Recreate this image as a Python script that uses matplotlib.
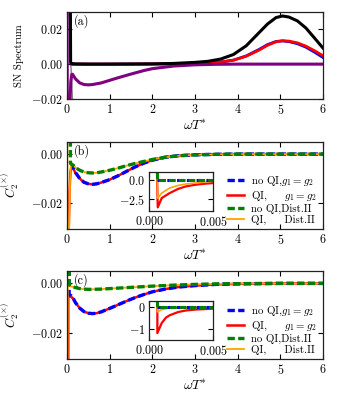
import matplotlib
matplotlib.use("Agg")
import matplotlib.pyplot as plt
from matplotlib.ticker import FuncFormatter
from matplotlib.lines import Line2D

plt.rcParams['font.family'] = ['cmr10', 'DejaVu Serif']
plt.rcParams['mathtext.fontset'] = 'cm'
plt.rcParams['axes.unicode_minus'] = False
plt.rcParams['axes.formatter.use_mathtext'] = True

# ---------------- Panel (a) data ----------------
a_black_x = [0.0, 0.05, 0.08, 0.085, 0.1, 0.2, 0.5, 1.0, 2.0, 2.5, 3.0, 3.3, 3.6, 3.9, 4.2, 4.5, 4.7, 4.9, 5.05, 5.2, 5.4, 5.6, 5.8, 6.0]
a_black_y = [0.035, 0.034, 0.030, 0.0008, 0.0003, 0.0001, 0.0, 0.0, 0.0001, 0.0004, 0.0010, 0.0016, 0.0029, 0.0055, 0.0105, 0.0180, 0.0230, 0.0267, 0.0276, 0.0270, 0.0248, 0.0207, 0.0150, 0.0092]

a_red_x = [0.1, 0.5, 1.0, 2.0, 2.5, 3.0, 3.3, 3.6, 3.9, 4.2, 4.5, 4.7, 4.9, 5.05, 5.2, 5.4, 5.6, 5.8, 6.0]
a_red_y = [0.0, 0.0, 0.0, 0.0001, 0.0002, 0.0005, 0.0008, 0.0012, 0.0022, 0.0045, 0.0080, 0.0108, 0.0128, 0.0134, 0.0132, 0.0122, 0.0103, 0.0077, 0.0048]
a_blue_y = [0.0, 0.0, 0.0, 0.0001, 0.0002, 0.0005, 0.0008, 0.0012, 0.0023, 0.0047, 0.0084, 0.0112, 0.0130, 0.0133, 0.0129, 0.0117, 0.0097, 0.0069, 0.0038]

a_gray_x = [0.06, 0.09, 0.11, 0.13]
a_gray_y = [0.030, 0.0, -0.010, -0.021]

a_purple_x = [0.005, 0.005, 0.07, 0.09, 0.11, 0.13, 0.2, 0.3, 0.4, 0.5, 0.6, 0.8, 1.0, 1.2, 1.5, 1.8, 2.0, 2.5, 3.0, 3.5, 4.0, 5.0, 6.0]
a_purple_y = [0.031, -0.021, -0.021, -0.010, -0.0060, -0.0058, -0.0085, -0.0108, -0.0117, -0.0119, -0.0117, -0.0108, -0.0093, -0.0078, -0.0057, -0.0037, -0.0026, -0.0011, -0.0004, -0.0001, 0.0, 0.0, 0.0]

# ---------------- Panel (b) data ----------------
b_blue_x = [0.07, 0.1, 0.15, 0.2, 0.3, 0.4, 0.5, 0.6, 0.7, 0.8, 1.0, 1.2, 1.4, 1.6, 1.8, 2.0, 2.3, 2.6, 3.0, 3.5, 4.0, 5.0, 6.0]
b_blue_y = [-0.0045, -0.0042, -0.0055, -0.0075, -0.0100, -0.0115, -0.0121, -0.0123, -0.0121, -0.0116, -0.0104, -0.0088, -0.0070, -0.0052, -0.0037, -0.0025, -0.0013, -0.0007, -0.0003, -0.0001, 0.0, 0.0, 0.0]
b_red_x = [0.04, 0.06, 0.08, 0.1, 0.15, 0.2, 0.3, 0.4, 0.5, 0.6, 0.7, 0.8, 1.0, 1.2, 1.4, 1.6, 1.8, 2.0, 2.3, 2.6, 3.0, 3.5, 4.0, 5.0, 6.0]
b_red_y = [-0.031, -0.015, -0.0075, -0.0055, -0.0060, -0.0077, -0.0100, -0.0115, -0.0121, -0.0123, -0.0121, -0.0116, -0.0104, -0.0088, -0.0070, -0.0052, -0.0037, -0.0025, -0.0013, -0.0007, -0.0003, -0.0001, 0.0, 0.0, 0.0]
b_green_x = [0.08, 0.08, 0.1, 0.15, 0.2, 0.3, 0.4, 0.5, 0.6, 0.7, 0.8, 1.0, 1.2, 1.4, 1.6, 1.8, 2.0, 2.3, 2.6, 3.0, 3.5, 4.0, 5.0, 6.0]
b_green_y = [0.006, -0.0035, -0.0040, -0.0046, -0.0055, -0.0066, -0.0073, -0.0076, -0.0077, -0.0076, -0.0073, -0.0066, -0.0057, -0.0047, -0.0038, -0.0030, -0.0022, -0.0013, -0.0007, -0.0003, -0.0001, 0.0, 0.0, 0.0]
b_orange_x = [0.008, 0.008, 0.05, 0.07, 0.09, 0.1, 0.15, 0.2, 0.3, 0.4, 0.5, 0.6, 0.7, 0.8, 1.0, 1.2, 1.4, 1.6, 1.8, 2.0, 2.3, 2.6, 3.0, 3.5, 4.0, 5.0, 6.0]
b_orange_y = [0.006, -0.031, -0.031, -0.012, -0.0050, -0.0041, -0.0046, -0.0055, -0.0066, -0.0073, -0.0076, -0.0077, -0.0076, -0.0073, -0.0066, -0.0057, -0.0047, -0.0038, -0.0030, -0.0022, -0.0013, -0.0007, -0.0003, -0.0001, 0.0, 0.0, 0.0]

# inset (b)
bi_x = [0.0006, 0.00066, 0.00097, 0.0016, 0.00227, 0.0029, 0.0036, 0.0043, 0.005]
bi_red_y = [1.0, -3.57, -2.37, -1.72, -1.17, -0.85, -0.65, -0.52, -0.43]
bi_orange_y = [1.0, -2.40, -1.72, -1.07, -0.73, -0.55, -0.43, -0.30, -0.21]
bi_green_x = [0.0006, 0.0006, 0.0008, 0.005]
bi_green_y = [1.0, 0.0, 0.0, 0.0]
bi_blue_x = [0.0006, 0.005]
bi_blue_y = [0.0, 0.0]

# ---------------- Panel (c) data ----------------
c_blue_x = [0.05, 0.05, 0.1, 0.15, 0.2, 0.3, 0.4, 0.5, 0.6, 0.7, 0.8, 1.0, 1.2, 1.4, 1.6, 1.8, 2.0, 2.3, 2.6, 3.0, 3.5, 4.0, 5.0, 6.0]
c_blue_y = [0.006, -0.0045, -0.0050, -0.0062, -0.0078, -0.0100, -0.0114, -0.0120, -0.0122, -0.0120, -0.0115, -0.0101, -0.0086, -0.0071, -0.0057, -0.0045, -0.0034, -0.0023, -0.0015, -0.0009, -0.0004, -0.0002, 0.0, 0.0]
c_red_x = [0.03, 0.03, 0.09, 0.15, 0.2, 0.3, 0.4, 0.5, 0.6, 0.7, 0.8, 1.0, 1.2, 1.4, 1.6, 1.8, 2.0, 2.3, 2.6, 3.0, 3.5, 4.0, 5.0, 6.0]
c_red_y = [-0.031, -0.0052, -0.0053, -0.0062, -0.0078, -0.0100, -0.0114, -0.0120, -0.0122, -0.0120, -0.0115, -0.0101, -0.0086, -0.0071, -0.0057, -0.0045, -0.0034, -0.0023, -0.0015, -0.0009, -0.0004, -0.0002, 0.0, 0.0]
c_green_x = [0.05, 0.05, 0.1, 0.2, 0.3, 0.4, 0.5, 0.6, 0.8, 1.0, 1.3, 1.6, 2.0, 2.5, 3.0, 3.5, 4.0, 5.0, 6.0]
c_green_y = [0.006, -0.0005, -0.0012, -0.0017, -0.0021, -0.0023, -0.0024, -0.0024, -0.0023, -0.0021, -0.0018, -0.0015, -0.0011, -0.0007, -0.0004, -0.0002, -0.0001, 0.0, 0.0]
c_orange_x = [0.008, 0.008, 0.012, 0.1, 0.2, 0.3, 0.4, 0.5, 0.6, 0.8, 1.0, 1.3, 1.6, 2.0, 2.5, 3.0, 3.5, 4.0, 5.0, 6.0]
c_orange_y = [0.006, -0.031, -0.0010, -0.0012, -0.0017, -0.0021, -0.0023, -0.0024, -0.0024, -0.0023, -0.0021, -0.0018, -0.0015, -0.0011, -0.0007, -0.0004, -0.0002, -0.0001, 0.0, 0.0]

# inset (c)
ci_x = [0.00063, 0.00063, 0.00097, 0.0013, 0.0016, 0.00227, 0.0029, 0.0036, 0.0043, 0.005]
ci_red_y = [0.3, -1.20, -0.74, -0.49, -0.38, -0.23, -0.16, -0.12, -0.10, -0.08]
ci_orange_y = [0.3, -0.23, -0.12, -0.08, -0.05, -0.04, -0.03, -0.03, -0.02, -0.02]
ci_green_x = [0.0006, 0.0006, 0.0008, 0.005]
ci_green_y = [0.3, 0.0, 0.0, 0.0]
ci_blue_x = [0.0006, 0.005]
ci_blue_y = [0.0, 0.0]

# ---------------- labels / ticks ----------------
x_ticks = [0, 1, 2, 3, 4, 5, 6]
a_yticks = [-0.02, 0.0, 0.02]
bc_yticks = [-0.02, 0.0]
bi_yticks = [-2.5, 0.0]
ci_yticks = [-1, 0]
inset_xticks = [0.0, 0.005]
legend_labels = [r"no QI,$g_1 = g_2$", r"QI,     $g_1 = g_2$", "no QI,Dist.II", "QI,     Dist.II"]

FS = 8.7
DASH = (2.2, 1.0)

def math_fmt(fmt):
    return FuncFormatter(lambda v, p: "$" + (fmt % v) + "$")

def style(ax, fs=FS):
    ax.tick_params(direction='in', top=True, right=True, labelsize=fs, length=3.5, width=0.8, pad=3)
    for s in ax.spines.values():
        s.set_linewidth(0.9)
        s.set_color('#222222')

fig = plt.figure(figsize=(3.38, 4.0), dpi=100)

# Panel a
ax_a = fig.add_axes([0.1982, 0.7525, 0.7574, 0.218])
ax_a.plot(a_red_x, a_blue_y, color='blue', lw=2.0)
ax_a.plot(a_red_x, a_red_y, color='red', lw=2.0)
ax_a.plot(a_gray_x, a_gray_y, color='gray', lw=1.0)
ax_a.plot(a_purple_x, a_purple_y, color='#800080', lw=2.2)
ax_a.plot(a_black_x, a_black_y, color='black', lw=2.2)
ax_a.set_xlim(0, 6)
ax_a.set_ylim(-0.02, 0.030)
ax_a.set_xticks(x_ticks)
ax_a.set_yticks(a_yticks)
ax_a.yaxis.set_major_formatter(math_fmt("%.2f"))
ax_a.xaxis.set_major_formatter(math_fmt("%d"))
ax_a.set_xlabel(r"$\omega T^{*}$", fontsize=9.8, labelpad=1)
ax_a.set_ylabel("SN Spectrum", fontsize=7.8, labelpad=5)
ax_a.text(0.025, 0.97, "(a)", transform=ax_a.transAxes, ha='left', va='top', fontsize=FS)
style(ax_a)

def panel(rect, blue, red, green, orange, label, inset_rect, ins, ins_ylim, ins_yticks, ins_yfmt):
    ax = fig.add_axes(rect)
    ax.plot(red[0], red[1], color='red', lw=1.8)
    ax.plot(blue[0], blue[1], color='blue', lw=2.4, dashes=DASH)
    ax.plot(orange[0], orange[1], color='#FFA500', lw=1.3)
    ax.plot(green[0], green[1], color='green', lw=2.4, dashes=DASH)
    ax.set_xlim(0, 6)
    ax.set_ylim(-0.0305, 0.005)
    ax.set_xticks(x_ticks)
    ax.set_yticks(bc_yticks)
    ax.yaxis.set_major_formatter(math_fmt("%.2f"))
    ax.xaxis.set_major_formatter(math_fmt("%d"))
    ax.set_xlabel(r"$\omega T^{*}$", fontsize=9.8, labelpad=1)
    ax.set_ylabel(r"$C_2^{(\times)}$", fontsize=FS + 0.5, labelpad=7)
    ax.text(0.025, 0.97, label, transform=ax.transAxes, ha='left', va='top', fontsize=FS)
    style(ax)
    handles = [Line2D([], [], color='blue', lw=2.4, dashes=DASH),
               Line2D([], [], color='red', lw=1.8),
               Line2D([], [], color='green', lw=2.4, dashes=DASH),
               Line2D([], [], color='#FFA500', lw=1.3)]
    ax.legend(handles, legend_labels, loc='center left', bbox_to_anchor=(0.625, 0.33),
              frameon=False, fontsize=7.8, handlelength=1.6, handletextpad=0.6,
              labelspacing=0.1, borderpad=0, borderaxespad=0)
    axi = fig.add_axes(inset_rect)
    (rx, ry), (ox, oy), (gx, gy), (bx, by) = ins
    axi.plot(rx, ry, color='red', lw=1.6)
    axi.plot(ox, oy, color='#FFA500', lw=1.2)
    axi.plot(bx, by, color='blue', lw=2.2, dashes=DASH)
    axi.plot(gx, gy, color='green', lw=2.2, dashes=DASH)
    axi.set_xlim(0, 0.005)
    axi.set_ylim(*ins_ylim)
    axi.set_xticks(inset_xticks)
    axi.set_yticks(ins_yticks)
    axi.xaxis.set_major_formatter(math_fmt("%.3f"))
    axi.yaxis.set_major_formatter(math_fmt(ins_yfmt))
    style(axi)
    return ax

panel([0.1982, 0.4275, 0.7574, 0.218],
      (b_blue_x, b_blue_y), (b_red_x, b_red_y), (b_green_x, b_green_y), (b_orange_x, b_orange_y),
      "(b)", [0.4417, 0.4733, 0.1893, 0.096],
      ((bi_x, bi_red_y), (bi_x, bi_orange_y), (bi_green_x, bi_green_y), (bi_blue_x, bi_blue_y)),
      (-4.0, 0.96), bi_yticks, "%.1f")

panel([0.1982, 0.1025, 0.7574, 0.22],
      (c_blue_x, c_blue_y), (c_red_x, c_red_y), (c_green_x, c_green_y), (c_orange_x, c_orange_y),
      "(c)", [0.4417, 0.1493, 0.1893, 0.0975],
      ((ci_x, ci_red_y), (ci_x, ci_orange_y), (ci_green_x, ci_green_y), (ci_blue_x, ci_blue_y)),
      (-1.53, 0.26), ci_yticks, "%d")

fig.savefig("out.png", dpi=100)
